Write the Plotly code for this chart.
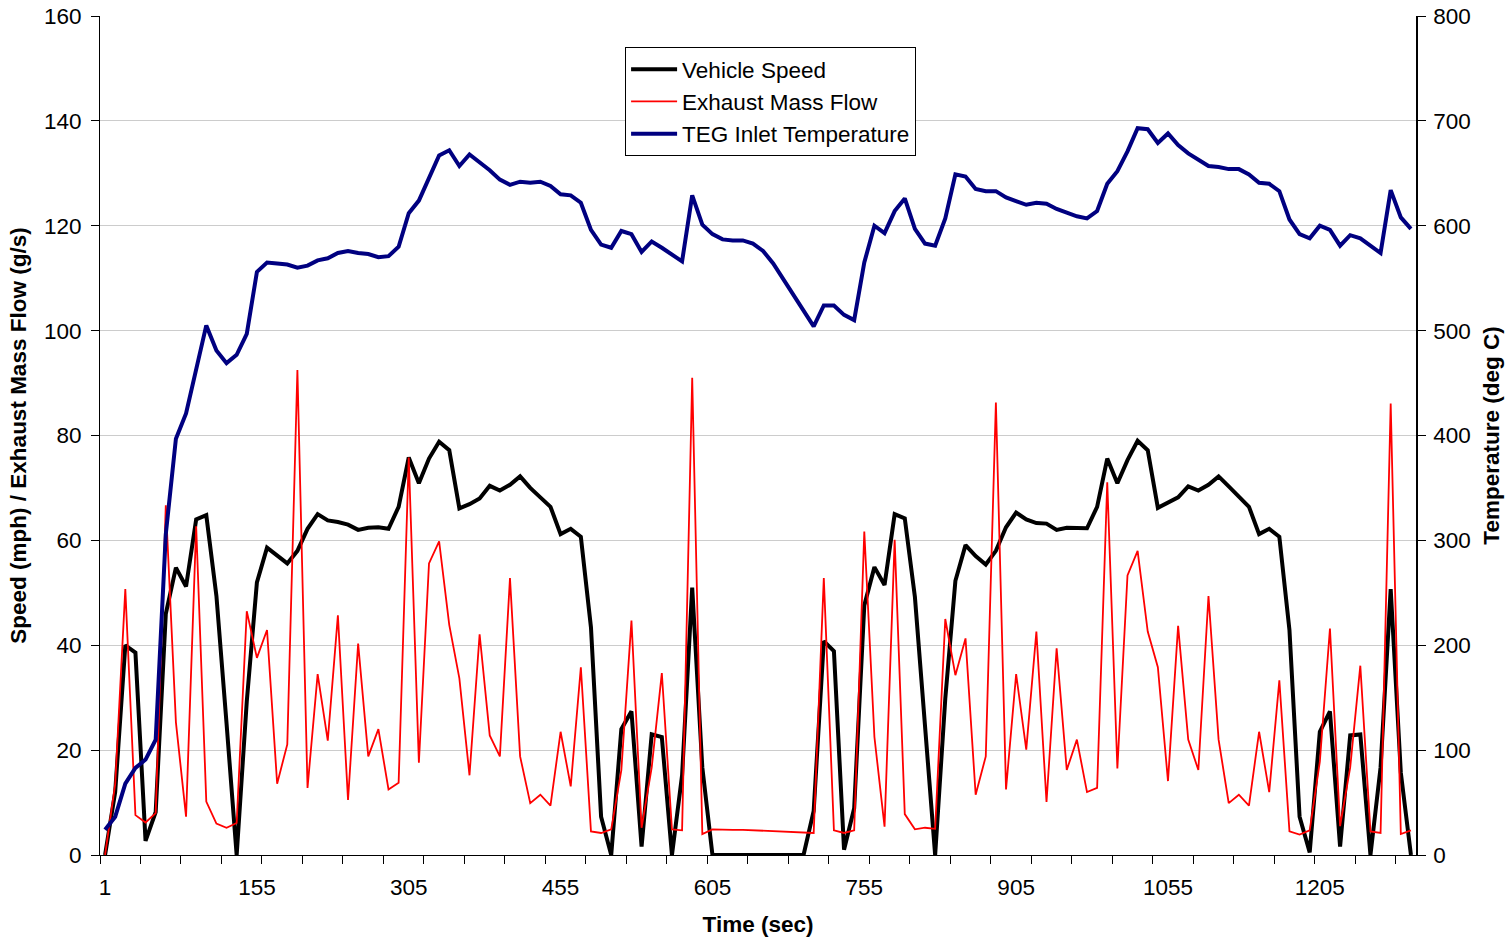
import plotly.graph_objects as go

# Sample times (s): first sample at 1 s, then every 10 s from 15 s
time_s = [1] + list(range(15, 1300, 10))

vehicle_speed_mph = [
    0, 12, 40, 38.6, 2.7, 8.2, 46, 54.8, 51.2, 64,
    64.8, 49.4, 25.1, 0, 29.3, 52, 58.6, 57, 55.6, 58,
    62.2, 65, 63.8, 63.5, 63, 62, 62.4, 62.5, 62.2, 66.4,
    75.8, 70.9, 75.6, 78.8, 77.2, 66.1, 66.9, 68, 70.4, 69.5,
    70.6, 72.2, 70, 68.2, 66.4, 61.2, 62.2, 60.7, 43.4, 7.3,
    0, 24, 27.4, 1.6, 23, 22.5, 0, 15.2, 51, 16.7,
    0, 0, 0, 0, 0, 0, 0, 0, 0, 0,
    8.4, 40.8, 38.9, 1, 8.9, 47.6, 54.9, 51.5, 65, 64.2,
    49.2, 24, 0, 29.8, 52.3, 59.1, 57, 55.4, 58, 62.5,
    65.3, 64, 63.3, 63.2, 62, 62.4, 62.4, 62.3, 66.4, 75.6,
    70.9, 75.3, 79, 77.2, 66.2, 67.1, 68.2, 70.3, 69.5, 70.6,
    72.2, 70.3, 68.4, 66.4, 61.2, 62.2, 60.7, 42.9, 7.3, 0.5,
    23.5, 27.4, 1.6, 22.8, 23, 0, 16.7, 50.7, 15.7, 0,
]

exhaust_flow_gs = [
    0, 13.5, 50.7, 7.6, 6.2, 8, 66.7, 25.3, 7.3, 62.7,
    10.2, 6, 5.2, 6.1, 46.5, 37.6, 42.9, 13.6, 21.1, 92.5,
    12.8, 34.5, 21.8, 45.7, 10.5, 40.3, 18.8, 24, 12.5, 13.8,
    75.8, 17.6, 55.6, 59.8, 43.9, 33.7, 15.2, 42.1, 22.8, 18.8,
    52.8, 18.8, 9.9, 11.5, 9.4, 23.5, 13.1, 35.8, 4.5, 4.2,
    4.9, 16.2, 44.7, 5.2, 16.7, 34.7, 4.9, 4.7, 91, 4,
    4.9, 4.8, 4.8, 4.8, 4.7, 4.6, 4.5, 4.4, 4.4, 4.3,
    4.2, 52.8, 4.7, 4.2, 4.7, 61.7, 22.5, 5.4, 60.1, 7.8,
    4.9, 5.2, 5, 45, 34.3, 41.3, 11.5, 18.8, 86.3, 12.5,
    34.5, 20.1, 42.6, 10.1, 39.4, 16.2, 22, 12, 12.8, 71.1,
    16.5, 53.3, 58, 42.6, 35.8, 14.1, 43.7, 22, 16.2, 49.4,
    22, 9.9, 11.5, 9.4, 23.5, 12, 33.3, 4.5, 3.9, 4.7,
    17.8, 43.2, 5.5, 16.7, 36.1, 4.5, 4.2, 86.1, 4, 4.7,
]

teg_inlet_temp_c = [
    24, 36.5, 68, 83, 91, 110, 306, 397, 421, 463,
    505, 481, 469, 477, 497, 556, 565, 564, 563, 560,
    562, 567, 569, 574, 576, 574, 573, 570, 571, 580,
    612, 624, 645, 667, 672, 657, 668, 661, 653, 644,
    639, 642, 641, 642, 638, 630, 629, 622, 596, 582,
    579, 595, 592, 575, 585, 579, 573, 566, 629, 601,
    592, 587, 586, 586, 583, 576, 564, 549, 533, 519,
    504, 524, 524, 515, 510, 565, 600, 593, 614, 626,
    597, 583, 581, 607, 649, 647, 635, 633, 633, 627,
    624, 620, 622, 621, 616, 612, 609, 607, 614, 640,
    652, 671, 693, 692, 679, 688, 677, 669, 663, 657,
    656, 654, 654, 649, 641, 640, 633, 606, 592, 588,
    600, 596, 581, 591, 588, 581, 574, 634, 608, 597,
]

# Category positions; a label every 15 samples, a tick every 4 samples
pos = list(range(len(time_s)))
label_pos = pos[::15]
label_text = [str(time_s[p]) for p in label_pos]
x_range = [-0.5, len(time_s) - 0.5]

FONT = "Arial, Liberation Sans, sans-serif"
FS = 22.5

fig = go.Figure()
fig.add_trace(go.Scatter(
    x=pos, y=vehicle_speed_mph, name="Vehicle Speed", mode="lines",
    line=dict(color="#000000", width=4), legendgroup="a",
))
fig.add_trace(go.Scatter(
    x=pos, y=exhaust_flow_gs, name="Exhaust Mass Flow", mode="lines",
    line=dict(color="#ff0000", width=1.8), legendgroup="b",
))
fig.add_trace(go.Scatter(
    x=pos, y=teg_inlet_temp_c, name="TEG Inlet Temperature", mode="lines",
    line=dict(color="#000080", width=4), yaxis="y2", legendgroup="c",
))

fig.update_layout(
    width=1507, height=937,
    margin=dict(l=100, r=91, t=16, b=82, autoexpand=False),
    paper_bgcolor="white", plot_bgcolor="white",
    font=dict(family=FONT, size=FS, color="black"),
    showlegend=True,
    legend=dict(
        x=0.399, y=0.963, xanchor="left", yanchor="top",
        bgcolor="white", bordercolor="black", borderwidth=1,
        font=dict(size=FS), tracegroupgap=0, itemwidth=46,
    ),
    xaxis=dict(
        range=x_range, tickmode="array", tickvals=label_pos, ticktext=label_text,
        ticks="", showgrid=False, zeroline=False, automargin=False,
        showline=True, linecolor="black", linewidth=1,
        ticklabelstandoff=12,
        minor=dict(tickmode="linear", tick0=-0.5, dtick=4, ticks="outside",
                   ticklen=8, tickcolor="black", tickwidth=1, showgrid=False),
        title=dict(text="<b>Time (sec)</b>", standoff=17, font=dict(size=FS)),
    ),
    xaxis2=dict(
        range=x_range, overlaying="x", side="bottom", anchor="y",
        tickmode="linear", tick0=-0.5, dtick=4, ticks="inside", ticklen=7,
        tickcolor="black", showticklabels=False, showgrid=False,
        zeroline=False, showline=False, automargin=False,
    ),
    xaxis3=dict(
        range=x_range, overlaying="x", side="top", anchor="y",
        showticklabels=False, ticks="", showgrid=False, zeroline=False,
        showline=True, linecolor="#808080", linewidth=1, automargin=False,
    ),
    yaxis=dict(
        range=[0, 160], dtick=20, ticks="outside", ticklen=8, tickcolor="black",
        showline=True, linecolor="black", linewidth=1, automargin=False,
        showgrid=True, gridcolor="#cccccc", gridwidth=1, zeroline=False,
        ticklabelstandoff=5,
        title=dict(text="<b>Speed (mph) / Exhaust Mass Flow (g/s)</b>",
                   standoff=11, font=dict(size=FS)),
    ),
    yaxis2=dict(
        range=[0, 800], dtick=100, overlaying="y", side="right",
        ticks="outside", ticklen=8, tickcolor="black", automargin=False,
        showline=True, linecolor="black", linewidth=1.5,
        showgrid=False, zeroline=False, ticklabelstandoff=3,
        title=dict(text="<b>Temperature (deg C)</b>", standoff=13, font=dict(size=FS)),
    ),
)

fig.write_html("out.html")
